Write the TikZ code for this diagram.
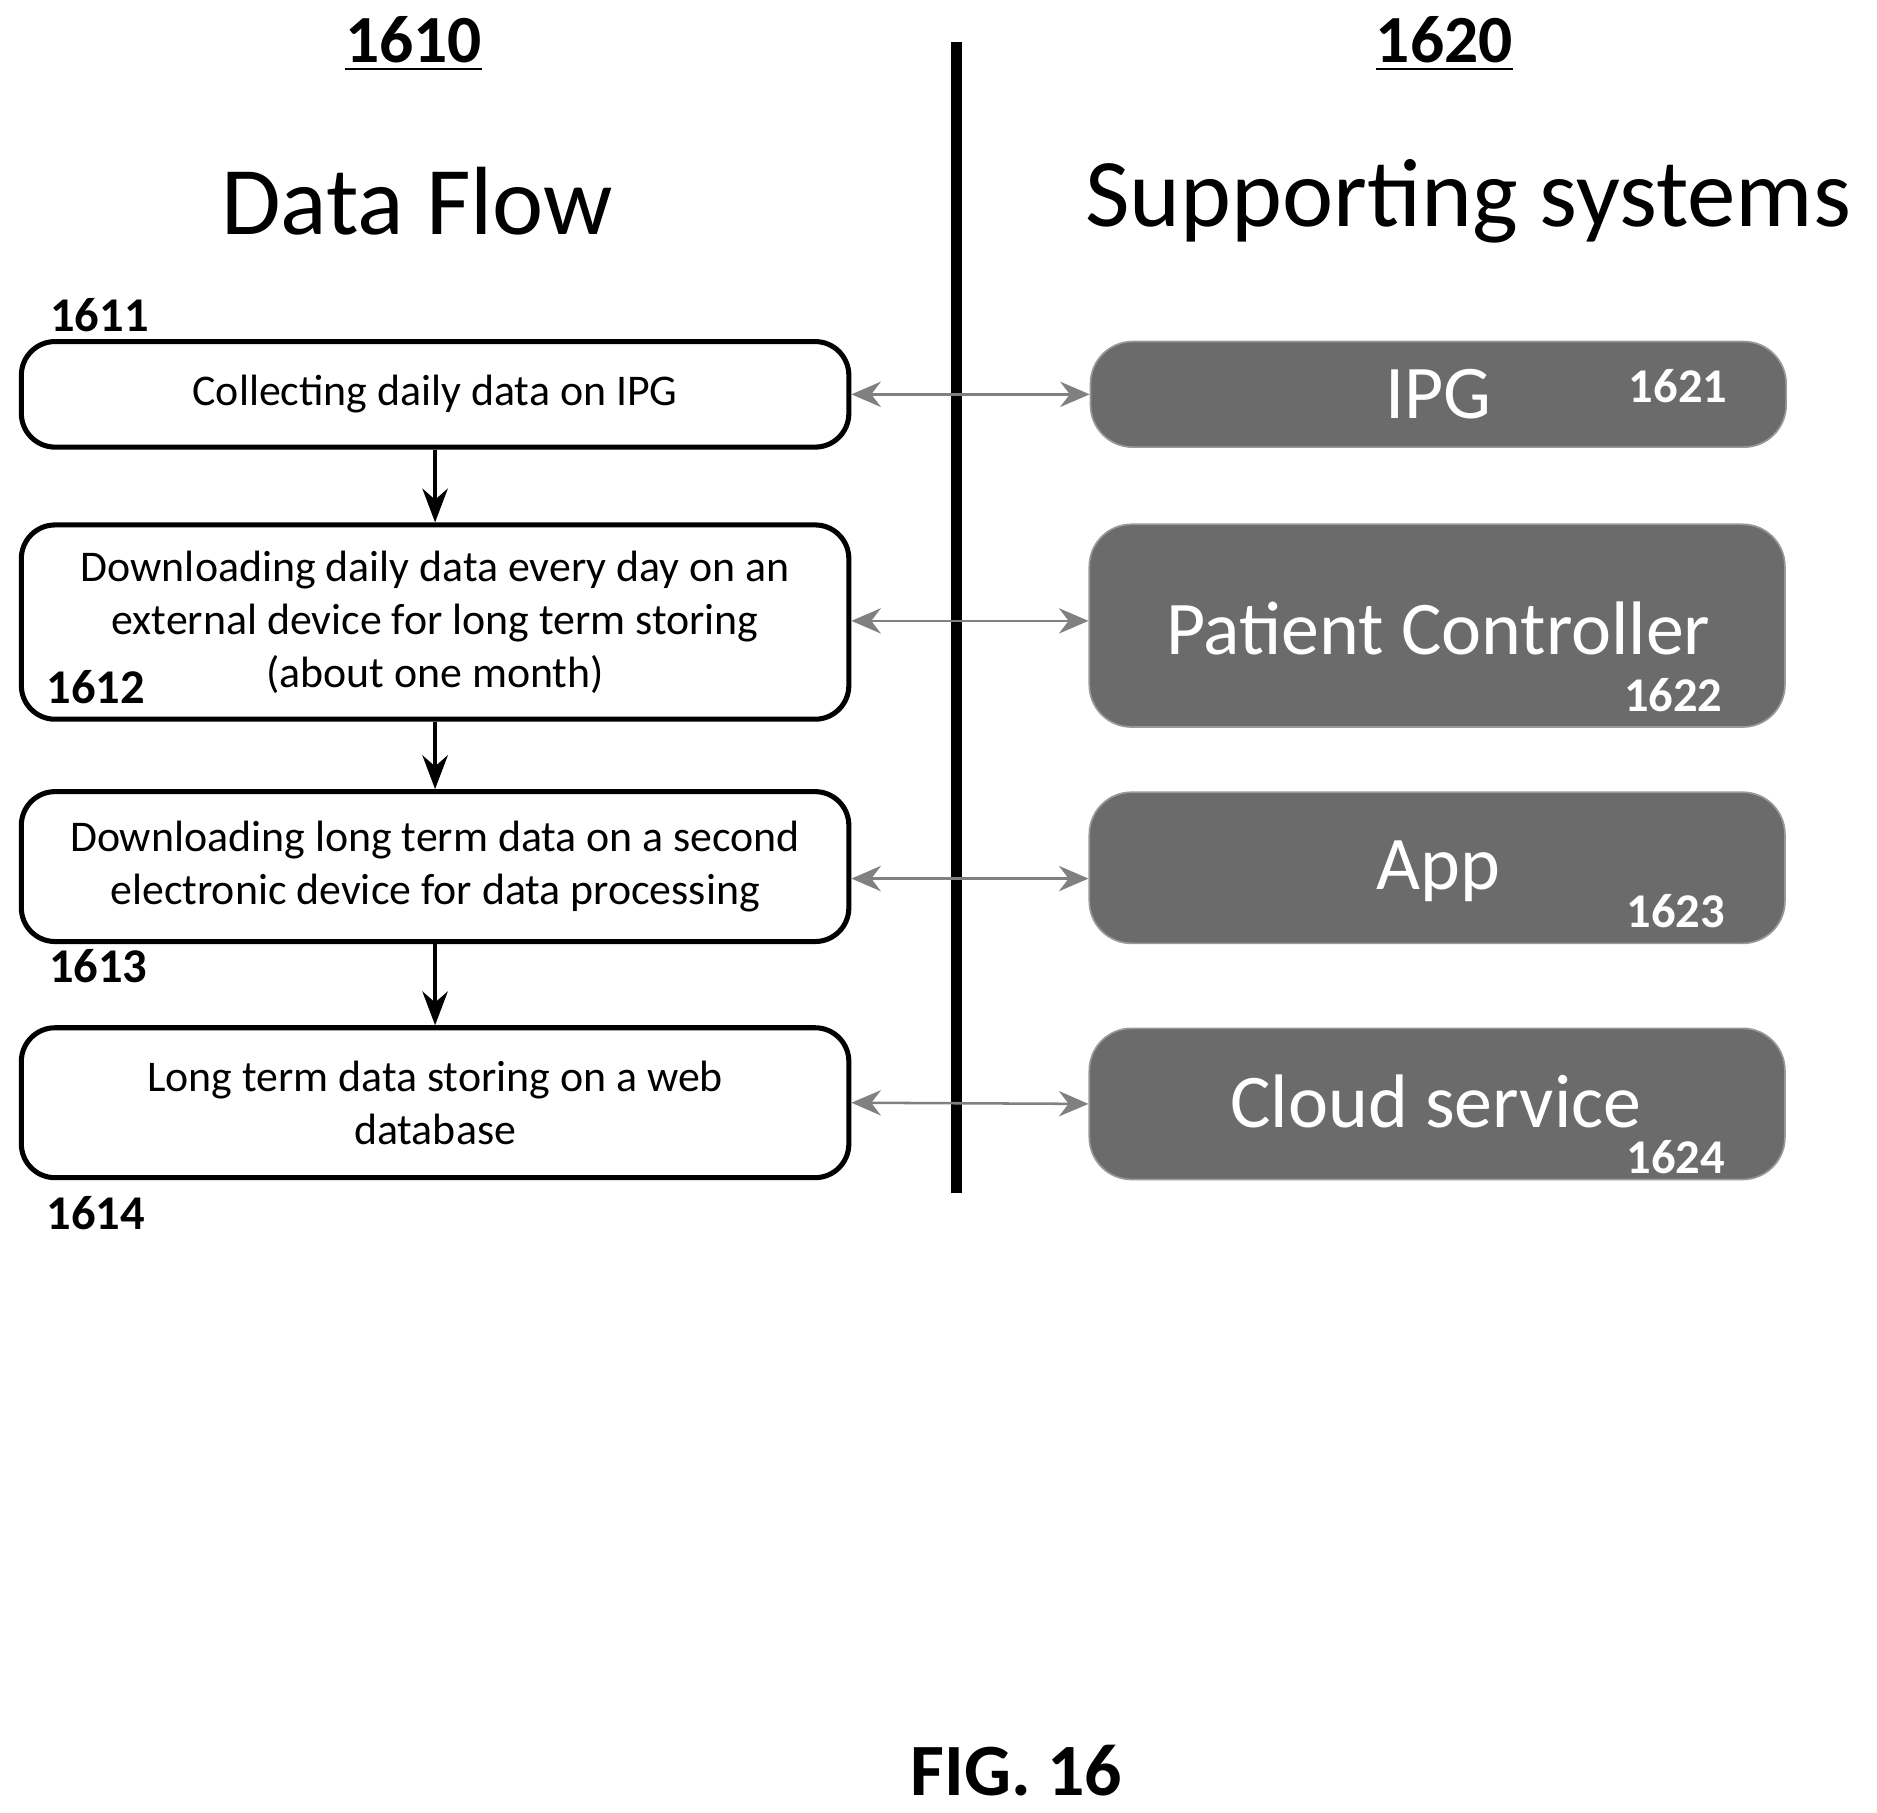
\documentclass[tikz,border=0pt]{standalone}
\usepackage{fontspec}
\setmainfont{Carlito}
\usetikzlibrary{arrows.meta}
\tikzset{
  flowbox/.style={draw,line width=1.2pt,rounded corners=8pt,align=center,font=\fontsize{10.4}{12.6}\selectfont},
  sys/.style={fill=black!58,draw=black!40,rounded corners=10pt,text=white},
  num/.style={font=\bfseries\fontsize{11.5}{14}\selectfont},
  link/.style={<->,>={Stealth[length=7pt,width=6pt]},draw=black!50,fill=black!50,line width=0.6pt}
}
\begin{document}
\begin{tikzpicture}[x=0.01cm,y=-0.01cm]
    \useasboundingbox (0,0) rectangle (1566,1512);

    \node[font=\bfseries\fontsize{16}{18}\selectfont] (H1) at (345,37) {\underline{1610}};
    \node[font=\bfseries\fontsize{16}{18}\selectfont] (H2) at (1205,37) {\underline{1620}};
    \node[font=\fontsize{23}{26}\selectfont] (T1) at (348,168) {Data Flow};
    \node[font=\fontsize{23}{26}\selectfont] (T2) at (1225,168) {Supporting systems};

    \coordinate (V1) at (798,35);
    \coordinate (V2) at (798,995);
    \draw[line width=2.5pt] (V1) -- (V2);

    % data flow steps
    \node[flowbox,minimum width=6.9cm,minimum height=0.88cm] (A) at (363,329) {Collecting daily data on IPG};
    \node[flowbox,minimum width=6.9cm,minimum height=1.62cm] (B) at (363,519) {Downloading daily data every day on an\\external device for long term storing\\(about one month)};
    \node[flowbox,minimum width=6.9cm,minimum height=1.25cm] (C) at (363,723) {Downloading long term data on a second\\electronic device for data processing};
    \node[flowbox,minimum width=6.9cm,minimum height=1.25cm] (D) at (363,920) {Long term data storing on a web\\database};

    \draw[-{Stealth[length=8pt]},line width=1pt] (A) -- (B);
    \draw[-{Stealth[length=8pt]},line width=1pt] (B) -- (C);
    \draw[-{Stealth[length=8pt]},line width=1pt] (C) -- (D);

    \node[num] (L1) at (83,263) {1611};
    \node[num] (L2) at (80,573) {1612};
    \node[num] (L3) at (82,806) {1613};
    \node[num] (L4) at (80,1012) {1614};

    % supporting systems
    \node[sys,minimum width=5.8cm,minimum height=0.88cm] (S1) at (1200,329) {};
    \node[sys,minimum width=5.8cm,minimum height=1.69cm] (S2) at (1199,522) {};
    \node[sys,minimum width=5.8cm,minimum height=1.26cm] (S3) at (1199,724) {};
    \node[sys,minimum width=5.8cm,minimum height=1.26cm] (S4) at (1199,921) {};

    \node[text=white,font=\fontsize{18}{21}\selectfont] (N1) at (1200,329) {IPG};
    \node[text=white,font=\fontsize{18}{21}\selectfont] (N2) at (1200,524) {Patient Controller};
    \node[text=white,font=\fontsize{18}{21}\selectfont] (N3) at (1200,727) {App};
    \node[text=white,font=\fontsize{18}{21}\selectfont] (N4) at (1198,919) {Cloud service};

    \node[num,text=white] (M1) at (1400,322) {1621};
    \node[num,text=white] (M2) at (1396,580) {1622};
    \node[num,text=white] (M3) at (1398,760) {1623};
    \node[num,text=white] (M4) at (1398,965) {1624};

    \draw[link] (A.east) -- (S1.west);
    \draw[link] (B.east |- 0,518) coordinate (P2) -- (S2.west |- P2);
    \draw[link] (C.east |- 0,733) coordinate (P3) -- (S3.west |- P3);
    \draw[link] (D.east) -- (S4.west);

    \node[font=\bfseries\fontsize{17.5}{20}\selectfont] (F) at (848,1477) {FIG. 16};
\end{tikzpicture}
\end{document}
